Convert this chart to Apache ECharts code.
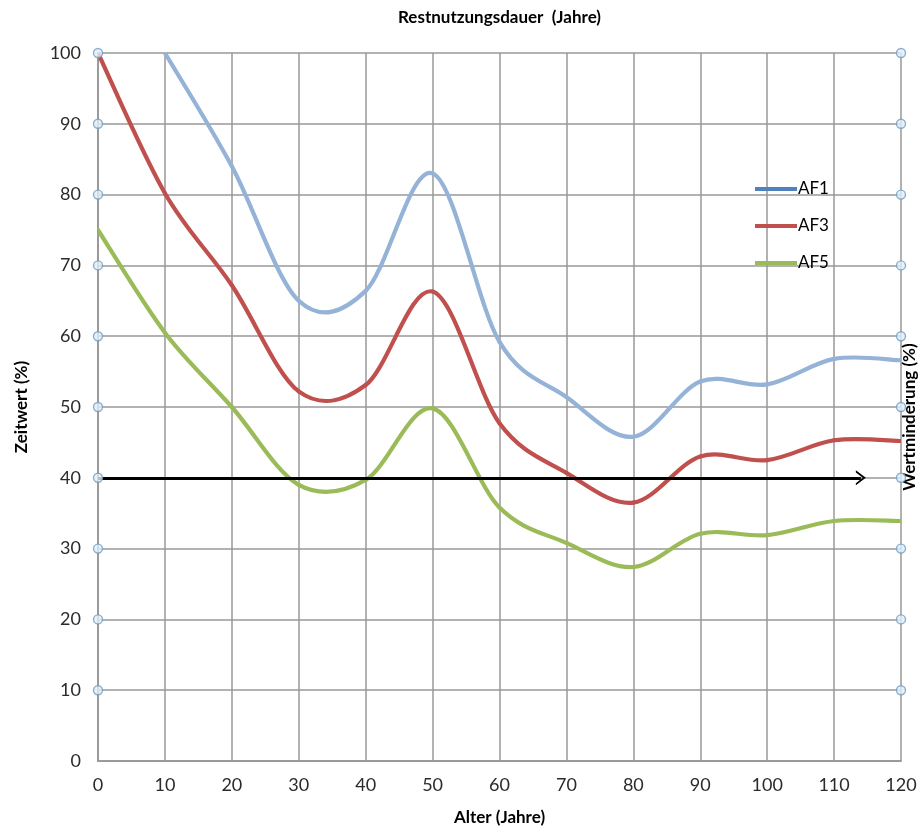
<!DOCTYPE html>
<html>
<head>
<meta charset="utf-8">
<script src="https://cdn.jsdelivr.net/npm/echarts@6/dist/echarts.min.js"></script>
<style>
  html, body { margin: 0; padding: 0; background: #fff; }
  #chart { width: 920px; height: 831px; }
</style>
</head>
<body>
<div id="chart"></div>
<script>
// Alter (Jahre)
const ages = [0, 10, 20, 30, 40, 50, 60, 70, 80, 90, 100, 110, 120]
// AF1 begins at 10 years
const af1 = [null, 100, 84, 65, 66.4, 83, 59.2, 51.4, 45.8, 53.6, 53.2, 56.8, 56.6]
const af3 = [100, 80.2, 67.2, 52.2, 53.1, 66.3, 47.7, 40.7, 36.5, 43, 42.5, 45.3, 45.2]
const af5 = [75, 60.5, 50, 39, 39.7, 49.8, 35.8, 30.8, 27.4, 32.1, 31.9, 33.9, 33.9]
// hollow tick markers on left and right y axes
const markerYs = [10, 20, 30, 40, 50, 60, 70, 80, 90, 100]
// horizontal arrow at 40 %
const arrowY = 40
const arrowFrom = 0
const arrowTo = 114

const font = 'Lato, "Open Sans", sans-serif'
const gridColor = '#999'

const pairs = (ys) => ages.map((x, i) => [x, ys[i]]).filter(p => p[1] != null)

// spreadsheet-style smoothed line: cubic segments through every point
function curve(name, ys, color) {
  const pts = pairs(ys)
  const n = pts.length
  return {
    name, type: 'custom', data: pts, clip: true, z: 3,
    encode: { x: 0, y: 1 },
    itemStyle: { color },
    renderItem: (params, api) => {
      const i = params.dataIndex
      if (i >= n - 1) return { type: 'group', children: [] }
      const c = k => api.coord(pts[Math.max(0, Math.min(n - 1, k))])
      const p0 = c(i - 1), p1 = c(i), p2 = c(i + 1), p3 = c(i + 2)
      return {
        type: 'bezierCurve',
        shape: {
          x1: p1[0], y1: p1[1], x2: p2[0], y2: p2[1],
          cpx1: p1[0] + (p2[0] - p0[0]) / 6, cpy1: p1[1] + (p2[1] - p0[1]) / 6,
          cpx2: p2[0] - (p3[0] - p1[0]) / 6, cpy2: p2[1] - (p3[1] - p1[1]) / 6,
        },
        style: { stroke: color, lineWidth: 4.2, fill: null, lineCap: 'round' },
      }
    },
  }
}

const axisCommon = {
  axisTick: { show: false },
  axisLine: { lineStyle: { color: gridColor, width: 1.5 } },
  splitLine: { lineStyle: { color: gridColor, width: 1.5 } },
  axisLabel: { color: '#2b2b2b', fontFamily: font, fontSize: 18 },
  nameTextStyle: { color: '#000', fontFamily: font, fontSize: 17, fontWeight: 'bold' },
}

const chart = echarts.init(document.getElementById('chart'))

chart.setOption({
  animation: false,
  grid: { left: 98, right: 19, top: 53, bottom: 70, outerBoundsMode: 'none' },
  legend: {
    orient: 'vertical',
    left: 750,
    top: 175,
    itemWidth: 42,
    itemHeight: 18,
    itemGap: 19,
    icon: 'path://M0,0 L42,0 L42,4 L0,4 Z',
    textStyle: { color: '#000', fontFamily: font, fontSize: 17, lineHeight: 18, padding: [0, 0, 0, -4] },
    data: [
      { name: 'AF1', itemStyle: { color: '#4F81BD' } },
      { name: 'AF3', itemStyle: { color: '#C0504D' } },
      { name: 'AF5', itemStyle: { color: '#9BBB59' } },
    ],
  },
  xAxis: [
    {
      ...axisCommon,
      type: 'value', min: 0, max: 120, interval: 10,
      axisLabel: { ...axisCommon.axisLabel, margin: 15 },
      name: 'Alter (Jahre)', nameLocation: 'middle', nameGap: 48,
    },
    {
      ...axisCommon,
      type: 'value', position: 'top', min: 0, max: 120, interval: 10,
      axisLabel: { show: false }, splitLine: { show: false },
      name: 'Restnutzungsdauer  (Jahre)', nameLocation: 'middle', nameGap: 27,
    },
  ],
  yAxis: [
    {
      ...axisCommon,
      type: 'value', min: 0, max: 100, interval: 10,
      axisLabel: { ...axisCommon.axisLabel, margin: 17 },
      name: 'Zeitwert (%)', nameLocation: 'middle', nameGap: 68,
    },
    {
      ...axisCommon,
      type: 'value', position: 'right', min: 0, max: 100, interval: 10,
      axisLabel: { show: false }, splitLine: { show: false },
      name: 'Wertminderung (%)', nameLocation: 'middle', nameGap: 0, nameRotate: 90,
      nameTextStyle: { ...axisCommon.nameTextStyle, padding: [0, 20, 0, 0] },
    },
  ],
  series: [
    curve('AF1', af1, '#95B3D7'),
    curve('AF3', af3, '#C0504D'),
    curve('AF5', af5, '#9BBB59'),
    {
      name: 'markers', type: 'scatter', z: 5,
      data: [...markerYs.map(y => [0, y]), ...markerYs.map(y => [120, y])],
      symbol: 'circle', symbolSize: 9,
      itemStyle: { color: '#e4eef6', borderColor: '#6f9cc4', borderWidth: 1.4 },
      markLine: {
        silent: true,
        z: 4,
        symbol: ['none', 'path://M0,9 L7,0 L14,9 L12,9 L7,2.8 L2,9 Z'],
        symbolSize: [15, 10],
        label: { show: false },
        lineStyle: { color: '#000', width: 3, type: 'solid' },
        data: [[{ coord: [arrowFrom, arrowY] }, { coord: [arrowTo, arrowY] }]],
      },
    },
  ],
})
</script>
</body>
</html>
